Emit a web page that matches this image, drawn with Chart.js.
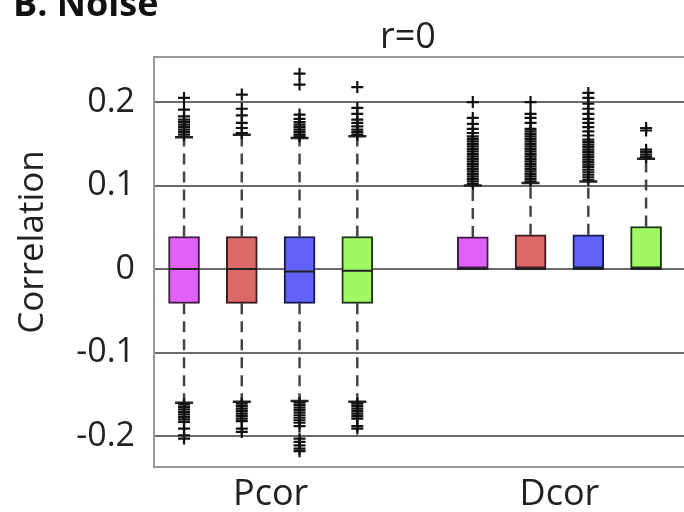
<!DOCTYPE html>
<html lang="en">
<head>
  <meta charset="UTF-8">
  <title>B. Noise</title>
  <script src="https://cdn.jsdelivr.net/npm/chart.js"></script>
  <style>
    html, body { margin: 0; padding: 0; background: #fff; overflow: hidden; }
    #wrap { position: relative; width: 720px; height: 512px; }
  </style>
</head>
<body>

<div id="wrap"><canvas id="boxChart"></canvas></div>

<script>
// categories and where their boxes sit on the x axis
const groups = ['Pcor', 'Dcor'];
const groupPos = [2.5, 7.5];
const boxPos = [1, 2, 3, 4, 6, 7, 8, 9];
const yTicks = [-0.2, -0.1, 0, 0.1, 0.2];

const panelLabel = 'B. Noise';
const titleText = 'r=0';
const yLabel = 'Correlation';

// box statistics, one entry per box
const q1        = [-0.041, -0.041, -0.041, -0.041, 0, 0, 0, 0];
const medians   = [0, 0, -0.003, -0.002, 0, 0, 0, 0];
const q3        = [0.039, 0.039, 0.039, 0.039, 0.0385, 0.041, 0.041, 0.051];
const whiskerLo = [-0.160, -0.159, -0.158, -0.159, 0, 0, 0, 0];
const whiskerHi = [0.158, 0.161, 0.157, 0.159, 0.100, 0.103, 0.105, 0.132];

const outliersHi = [
  [0.161, 0.164, 0.167, 0.170, 0.173, 0.176, 0.179, 0.183, 0.191, 0.205],
  [0.163, 0.169, 0.175, 0.184, 0.192, 0.209],
  [0.159, 0.161, 0.164, 0.167, 0.170, 0.173, 0.176, 0.180, 0.185, 0.221, 0.234],
  [0.161, 0.164, 0.167, 0.171, 0.175, 0.179, 0.186, 0.193, 0.218],
  [0.102, 0.105, 0.108, 0.111, 0.114, 0.117, 0.120, 0.123, 0.126, 0.129, 0.132, 0.135, 0.138, 0.141, 0.144,
   0.147, 0.150, 0.153, 0.156, 0.159, 0.163, 0.168, 0.174, 0.181, 0.200],
  [0.105, 0.108, 0.111, 0.114, 0.117, 0.120, 0.123, 0.126, 0.129, 0.132, 0.135, 0.138, 0.141, 0.144, 0.147,
   0.150, 0.153, 0.156, 0.159, 0.162, 0.165, 0.168, 0.175, 0.181, 0.186, 0.200],
  [0.107, 0.110, 0.113, 0.116, 0.119, 0.122, 0.125, 0.128, 0.131, 0.134, 0.137, 0.140, 0.143, 0.146, 0.149,
   0.152, 0.155, 0.160, 0.165, 0.170, 0.175, 0.180, 0.186, 0.192, 0.198, 0.205, 0.211],
  [0.134, 0.137, 0.140, 0.143, 0.166, 0.169]
];
const outliersLo = [
  [-0.162, -0.165, -0.168, -0.171, -0.174, -0.177, -0.180, -0.183, -0.191, -0.199, -0.203],
  [-0.161, -0.164, -0.167, -0.170, -0.173, -0.176, -0.179, -0.182, -0.191, -0.195],
  [-0.160, -0.163, -0.166, -0.169, -0.172, -0.175, -0.178, -0.181, -0.184, -0.188,
   -0.203, -0.207, -0.211, -0.215, -0.218],
  [-0.161, -0.164, -0.167, -0.170, -0.173, -0.176, -0.179, -0.188, -0.191],
  [], [], [], []
];

const boxColors  = ['#e060f8', '#dc6868', '#6262f8', '#a0f862', '#e060f8', '#dc6868', '#6262f8', '#a0f862'];
const boxBorders = ['#3e1e46', '#3e1a1a', '#181850', '#1e3616', '#3e1e46', '#3e1a1a', '#181850', '#1e3616'];

// build the datasets from the arrays above
const boxData = boxPos.map((x, i) => ({ x: x, y: [q1[i], q3[i]] }));
const medianData = boxPos.map((x, i) => ({ x: x, y: medians[i] }));

const whiskerData = [];
const capData = [];
boxPos.forEach((x, i) => {
  whiskerData.push({ x: x, y: q3[i] }, { x: x, y: whiskerHi[i] }, { x: x, y: null });
  capData.push({ x: x, y: whiskerHi[i] });
  if (whiskerLo[i] < q1[i]) {
    whiskerData.push({ x: x, y: q1[i] }, { x: x, y: whiskerLo[i] }, { x: x, y: null });
    capData.push({ x: x, y: whiskerLo[i] });
  }
});

const outlierData = [];
boxPos.forEach((x, i) => {
  outliersHi[i].concat(outliersLo[i]).forEach(v => outlierData.push({ x: x, y: v }));
});

const textColor = '#222';
const font = '"Open Sans", sans-serif';

// panel label, title, y label and the top frame line
const extras = {
  id: 'extras',
  afterDraw(chart) {
    const { ctx, chartArea } = chart;
    ctx.save();
    ctx.strokeStyle = '#999';
    ctx.lineWidth = 2;
    ctx.beginPath();
    ctx.moveTo(chartArea.left, chartArea.top);
    ctx.lineTo(chartArea.right, chartArea.top);
    ctx.stroke();

    ctx.fillStyle = '#111';
    ctx.font = 'bold 36px ' + font;
    ctx.textAlign = 'left';
    ctx.textBaseline = 'alphabetic';
    ctx.fillText(panelLabel, 13, 16);

    ctx.fillStyle = textColor;
    ctx.font = '36px ' + font;
    ctx.textAlign = 'center';
    ctx.textBaseline = 'middle';
    ctx.fillText(titleText, 408, 38);

    ctx.font = '35px ' + font;
    ctx.translate(33, 242);
    ctx.rotate(-Math.PI / 2);
    ctx.fillText(yLabel, 0, 0);
    ctx.restore();
  }
};

new Chart(document.getElementById('boxChart'), {
  type: 'bar',
  data: {
    datasets: [
      {
        type: 'scatter',
        data: outlierData,
        pointStyle: 'cross',
        radius: 6,
        borderColor: '#111',
        borderWidth: 2.2,
        order: 0
      },
      {
        type: 'scatter',
        data: medianData,
        pointStyle: 'line',
        radius: 15.5,
        borderColor: '#222',
        borderWidth: 2,
        order: 1
      },
      {
        type: 'scatter',
        data: capData,
        pointStyle: 'line',
        radius: 9,
        borderColor: '#222',
        borderWidth: 2.5,
        order: 1
      },
      {
        type: 'bar',
        data: boxData,
        backgroundColor: boxColors,
        borderColor: boxBorders,
        borderWidth: 2,
        borderSkipped: false,
        barThickness: 31,
        order: 3
      },
      {
        type: 'line',
        data: whiskerData,
        borderColor: '#444',
        borderWidth: 2.5,
        borderDash: [11, 7],
        pointRadius: 0,
        spanGaps: false,
        order: 4
      }
    ]
  },
  options: {
    responsive: true,
    maintainAspectRatio: false,
    animation: false,
    layout: { padding: { top: 57, left: 0, right: 0, bottom: 0 } },
    plugins: {
      legend: { display: false },
      tooltip: { enabled: false },
      title: { display: false }
    },
    scales: {
      x: {
        type: 'linear',
        min: 0.48,
        max: 9.977,
        offset: false,
        grid: { display: false, drawTicks: false },
        border: { display: true, color: '#999', width: 2 },
        afterBuildTicks: s => { s.ticks = groupPos.map(v => ({ value: v })); },
        afterFit: s => { s.height = 45; },
        ticks: {
          font: { family: font, size: 36 },
          color: textColor,
          padding: 6,
          autoSkip: false,
          maxRotation: 0,
          callback: v => groups[groupPos.indexOf(v)]
        }
      },
      y: {
        min: -0.237,
        max: 0.254,
        grid: { color: '#6a6a6a', lineWidth: 2, drawTicks: false },
        border: { display: true, color: '#999', width: 2 },
        afterBuildTicks: s => { s.ticks = yTicks.map(v => ({ value: v })); },
        afterFit: s => { s.width = 154; },
        ticks: {
          font: { family: font, size: 34 },
          color: textColor,
          padding: 19,
          callback: v => String(v)
        }
      }
    }
  },
  plugins: [extras]
});
</script>
</body>
</html>
